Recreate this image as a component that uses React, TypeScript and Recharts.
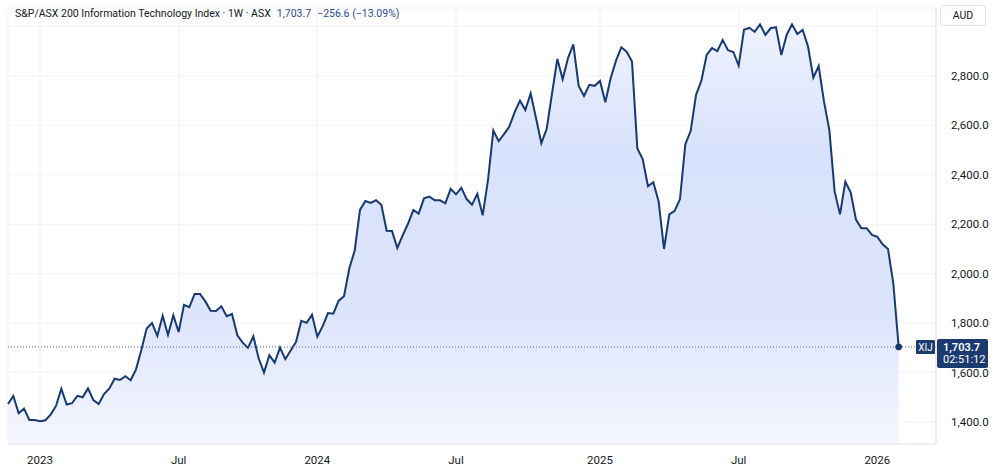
import React from 'react'
import { Area, AreaChart, CartesianGrid, XAxis, YAxis, ReferenceLine, ReferenceDot } from 'recharts'

// weekly closes, first bar = week of 21 Nov 2022
const START_WEEK = '2022-11-21'
const closes = [
  1473, 1505, 1435, 1454, 1408, 1408, 1403, 1407, 1430, 1465, 1535, 1471, 1476, 1506, 1500, 1536, 1489,
  1473, 1513, 1536, 1575, 1570, 1585, 1569, 1613, 1691, 1778, 1800, 1748, 1830, 1752, 1832, 1764,
  1874, 1865, 1918, 1918, 1888, 1850, 1849, 1868, 1828, 1837, 1751, 1721, 1700, 1747, 1658, 1600, 1670,
  1640, 1701, 1654, 1689, 1724, 1809, 1801, 1834, 1745, 1788, 1841, 1838, 1891, 1909, 2022, 2093, 2258,
  2294, 2286, 2297, 2279, 2174, 2173, 2104, 2155, 2202, 2258, 2243, 2305, 2312, 2297, 2297, 2285, 2343,
  2321, 2347, 2302, 2279, 2323, 2236, 2379, 2579, 2536, 2565, 2595, 2654, 2700, 2662, 2730, 2630, 2528,
  2585, 2728, 2869, 2787, 2872, 2928, 2760, 2719, 2764, 2760, 2780, 2694, 2791, 2862, 2916, 2898, 2858,
  2507, 2464, 2354, 2370, 2291, 2100, 2240, 2254, 2302, 2524, 2577, 2723, 2780, 2885, 2913, 2901, 2946,
  2904, 2897, 2842, 2987, 2995, 2979, 3009, 2966, 2993, 2997, 2885, 2966, 3009, 2970, 2986, 2919, 2793,
  2840, 2696, 2582, 2332, 2240, 2372, 2329, 2219, 2184, 2184, 2157, 2149, 2119, 2100, 1960.3, 1703.7,
]

const tickDates = ['2023-01-02', '2023-07-03', '2024-01-01', '2024-07-01', '2025-01-06', '2025-07-07', '2026-01-05']
const tickLabels = ['2023', 'Jul', '2024', 'Jul', '2025', 'Jul', '2026']
const priceTicks = [1400, 1600, 1800, 2000, 2200, 2400, 2600, 2800, 3000]

const SYMBOL = 'XIJ'
const TITLE = 'S&P/ASX 200 Information Technology Index · 1W · ASX'
const LAST = 1703.7
const CHANGE = -256.6
const CHANGE_PCT = -13.09
const COUNTDOWN = '02:51:12'

const weekOf = (i: number) =>
  new Date(Date.parse(START_WEEK) + i * 7 * 864e5).toISOString().slice(0, 10)

const data = closes.map((close, i) => ({ i, week: weekOf(i), close }))
const tickIdx = tickDates.map((d) => data.findIndex((p) => p.week === d))
const labelFor: Record<number, string> = {}
tickIdx.forEach((idx, k) => (labelFor[idx] = tickLabels[k]))

const FONT = 'Roboto, "Liberation Sans", sans-serif'
const fmt = (v: number) => v.toLocaleString('en-US', { minimumFractionDigits: 1, maximumFractionDigits: 1 })
const minus = (s: string) => s.replace('-', '\u2212')

const PriceTick = (props: any) => {
  const { x, y, payload } = props
  if (payload.value === 3000) return null
  return (
    <text x={x + 7} y={y + 4} fill="#131722" fontSize={11.5} fontFamily={FONT} textAnchor="start">
      {fmt(payload.value)}
    </text>
  )
}

const DateTick = (props: any) => {
  const { x, y, payload } = props
  return (
    <text x={x} y={y + 12} fill="#131722" fontSize={11.5} fontFamily={FONT} textAnchor="middle">
      {labelFor[payload.value]}
    </text>
  )
}

const LastBadge = (props: any) => {
  const { viewBox } = props
  const right = viewBox.x + viewBox.width
  const y = viewBox.y
  return (
    <g fontFamily={FONT}>
      <rect x={right - 20} y={y - 7} width={19} height={14} fill="#1b3a6f" rx={1} />
      <text x={right - 10.5} y={y + 4} fill="#fff" fontSize={10} textAnchor="middle">{SYMBOL}</text>
      <rect x={right + 1} y={y - 8} width={51} height={29} fill="#1b3a6f" rx={2} />
      <text x={right + 7} y={y + 4} fill="#fff" fontSize={11} fontWeight={600}>{fmt(LAST)}</text>
      <text x={right + 7} y={y + 16} fill="#fff" fontSize={11}>{COUNTDOWN}</text>
    </g>
  )
}

export default function App() {
  return (
    <div style={{ position: 'absolute', left: 0, top: 0, width: 1000, height: 474, background: '#fff' }}>
      <AreaChart width={1000} height={474} data={data} margin={{ top: 8, right: 0, bottom: 0, left: 8 }}>
        <defs>
          <linearGradient id="fillXij" x1="0" y1="0" x2="0" y2="1">
            <stop offset="0%" stopColor="#eef2fe" />
            <stop offset="30%" stopColor="#d9e2fc" />
            <stop offset="70%" stopColor="#dde5fc" />
            <stop offset="100%" stopColor="#f5f7fe" />
          </linearGradient>
        </defs>
        <CartesianGrid stroke="#f0f3fa" vertical horizontal />
        <XAxis
          dataKey="i"
          type="number"
          domain={[0, 174]}
          ticks={tickIdx}
          interval={0}
          height={30}
          tickLine={false}
          axisLine={{ stroke: '#e0e3eb' }}
          tick={<DateTick />}
        />
        <YAxis
          orientation="right"
          width={64}
          type="number"
          domain={[1311, 3075]}
          allowDataOverflow
          ticks={priceTicks}
          interval={0}
          tickLine={false}
          axisLine={{ stroke: '#e0e3eb' }}
          tick={<PriceTick />}
        />
        <Area
          type="linear"
          dataKey="close"
          stroke="#173a72"
          strokeWidth={2}
          fill="url(#fillXij)"
          fillOpacity={1}
          dot={false}
          activeDot={false}
          isAnimationActive={false}
        />
        <ReferenceLine y={LAST} stroke="#3f63a8" strokeDasharray="1 2" strokeWidth={1} label={<LastBadge />} />
        <ReferenceDot x={data.length - 1} y={LAST} r={3} fill="#173a72" stroke="#173a72" />
      </AreaChart>
      <div
        style={{
          position: 'absolute', left: 15, top: 7, fontFamily: FONT, fontSize: 10.5, color: '#131722',
          whiteSpace: 'nowrap',
        }}
      >
        {TITLE}
        <span style={{ color: '#1f4c97', marginLeft: 6 }}>{fmt(LAST)}</span>
        <span style={{ color: '#1f4c97', marginLeft: 6 }}>
          {minus(fmt(CHANGE))} ({minus(CHANGE_PCT.toFixed(2))}%)
        </span>
      </div>
      <div
        style={{
          position: 'absolute', left: 940, top: 5, width: 46, height: 21, border: '1px solid #e0e3eb',
          borderRadius: 3, boxSizing: 'border-box', fontFamily: FONT, fontSize: 10.5, color: '#131722',
          display: 'flex', alignItems: 'center', justifyContent: 'center', background: '#fff',
        }}
      >
        AUD
      </div>
    </div>
  )
}
